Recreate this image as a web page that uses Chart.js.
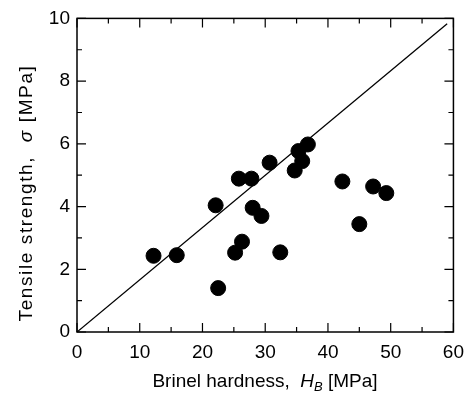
<!DOCTYPE html>
<html lang="en">
<head>
    <meta charset="UTF-8">
    <title>Tensile strength vs Brinel hardness</title>
    <script src="https://cdn.jsdelivr.net/npm/chart.js"></script>
    <style>
        html, body { margin: 0; padding: 0; background: #fff; }
        #wrap { width: 473px; height: 398px; position: relative; }
    </style>
</head>
<body>
    <div id="wrap"><canvas id="grafico"></canvas></div>

<script>
    // dados
    const dureza = [12.2, 15.9, 22.5, 22.1, 25.2, 26.3, 25.8, 27.8, 28.0, 29.4, 32.4, 30.7, 34.7, 35.3, 35.9, 36.8, 42.3, 45.0, 47.2, 49.3];
    const tensao = [2.43, 2.45, 1.40, 4.04, 2.53, 2.88, 4.89, 4.89, 3.96, 3.70, 2.54, 5.40, 5.15, 5.77, 5.45, 5.98, 4.80, 3.44, 4.64, 4.43];

    // reta de referencia
    const retaX = [0, 59];
    const retaY = [0, 9.83];

    const xTicks = [0, 10, 20, 30, 40, 50, 60];
    const yTicks = [0, 2, 4, 6, 8, 10];
    const xMinor = [5, 15, 25, 35, 45, 55];
    const yMinor = [1, 3, 5, 7, 9];

    const fonte = '"Liberation Sans", Arial, sans-serif';

    // moldura + ticks para dentro nos 4 lados
    const moldura = {
        id: 'moldura',
        afterDatasetsDraw(chart) {
            const c = chart.ctx, a = chart.chartArea;
            const sx = chart.scales.x, sy = chart.scales.y;
            c.save();
            c.strokeStyle = '#000';
            c.lineWidth = 1.5;
            c.strokeRect(a.left, a.top, a.right - a.left, a.bottom - a.top);
            c.lineWidth = 1.2;
            c.beginPath();
            const tx = (v, len) => {
                const p = sx.getPixelForValue(v);
                c.moveTo(p, a.bottom); c.lineTo(p, a.bottom - len);
                c.moveTo(p, a.top); c.lineTo(p, a.top + len);
            };
            const ty = (v, len) => {
                const p = sy.getPixelForValue(v);
                c.moveTo(a.left, p); c.lineTo(a.left + len, p);
                c.moveTo(a.right, p); c.lineTo(a.right - len, p);
            };
            xTicks.forEach(v => tx(v, 9));
            xMinor.forEach(v => tx(v, 5));
            yTicks.forEach(v => ty(v, 9));
            yMinor.forEach(v => ty(v, 5));
            c.stroke();
            c.restore();
        }
    };

    // titulos dos eixos com italico e subscrito
    const titulos = {
        id: 'titulos',
        afterDraw(chart) {
            const c = chart.ctx, a = chart.chartArea;
            c.save();
            c.fillStyle = '#000';
            c.textBaseline = 'alphabetic';

            const pn = (s, f) => { c.font = f; return c.measureText(s).width; };
            const f1 = '19px ' + fonte, fi = 'italic 19px ' + fonte, fs = 'italic 13px ' + fonte;

            // eixo x
            const p1 = 'Brinel hardness,  ', p2 = 'H', p3 = 'B', p4 = ' [MPa]';
            const w = pn(p1, f1) + pn(p2, fi) + pn(p3, fs) + pn(p4, f1);
            let x = 265 - w / 2;
            const yb = 387;
            c.font = f1; c.fillText(p1, x, yb); x += c.measureText(p1).width;
            c.font = fi; c.fillText(p2, x, yb); x += c.measureText(p2).width;
            c.font = fs; c.fillText(p3, x, yb + 4); x += c.measureText(p3).width;
            c.font = f1; c.fillText(p4, x, yb);

            // eixo y (rotacionado), letras mais espaçadas como no original
            c.letterSpacing = '1.6px';
            c.translate(32, 193);
            c.rotate(-Math.PI / 2);
            const q1 = 'Tensile strength,  ', q2 = '\u03c3', q3 = ' [MPa]';
            const wy = pn(q1, f1) + pn(q2, fi) + pn(q3, f1);
            let xx = -wy / 2;
            c.font = f1; c.fillText(q1, xx, 0); xx += c.measureText(q1).width;
            c.font = fi; c.fillText(q2, xx, 0); xx += c.measureText(q2).width;
            c.font = f1; c.fillText(q3, xx, 0);
            c.restore();
        }
    };

    const pontos = dureza.map((v, i) => ({ x: v, y: tensao[i] }));
    const reta = retaX.map((v, i) => ({ x: v, y: retaY[i] }));

    new Chart(document.getElementById('grafico'), {
        type: 'scatter',
        data: {
            datasets: [
                {
                    type: 'line',
                    data: reta,
                    borderColor: '#000',
                    borderWidth: 1.3,
                    pointRadius: 0,
                    fill: false
                },
                {
                    data: pontos,
                    backgroundColor: '#000',
                    borderColor: '#000',
                    pointRadius: 7.5,
                    pointHoverRadius: 7.5
                }
            ]
        },
        options: {
            responsive: true,
            maintainAspectRatio: false,
            animation: false,
            layout: { padding: { left: 0, right: 18, top: 17, bottom: 0 } },
            plugins: { legend: { display: false }, tooltip: { enabled: false } },
            scales: {
                x: {
                    type: 'linear',
                    min: 0, max: 60,
                    afterBuildTicks: s => { s.ticks = xTicks.map(v => ({ value: v })); },
                    afterFit: s => { s.height = 66; },
                    grid: { display: false, drawTicks: false },
                    border: { display: false },
                    ticks: { color: '#000', padding: 9, font: { family: fonte, size: 19 } }
                },
                y: {
                    type: 'linear',
                    min: 0, max: 10,
                    afterBuildTicks: s => { s.ticks = yTicks.map(v => ({ value: v })); },
                    afterFit: s => { s.width = 77; },
                    grid: { display: false, drawTicks: false },
                    border: { display: false },
                    ticks: { color: '#000', padding: 7, font: { family: fonte, size: 19 } }
                }
            }
        },
        plugins: [moldura, titulos]
    });
</script>
</body>
</html>
